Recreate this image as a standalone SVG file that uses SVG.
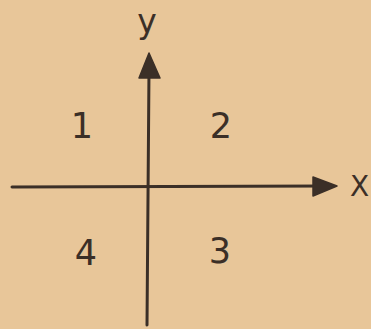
<svg xmlns="http://www.w3.org/2000/svg" width="371" height="329" viewBox="0 0 371 329">
<style>
.ax{stroke:#3b2f27;stroke-width:3;fill:none;stroke-linecap:round}
.hd{fill:#3b2f27;stroke:#3b2f27;stroke-width:1.5;stroke-linejoin:round}
.lb{font-family:"DejaVu Sans",sans-serif;font-size:35px;fill:#3b2f27;text-anchor:middle}
</style>
<rect width="371" height="329" fill="#e8c699"/>
<g id="connectors">
<line class="ax" x1="149" y1="70" x2="147" y2="325"/>
<line class="ax" x1="12" y1="187" x2="325" y2="186"/>
<polygon class="hd" points="149,53 160,78 139,78"/>
<polygon class="hd" points="337,186 313,177 313,196"/>
</g>
<g id="label-y"><text class="lb" x="147" y="33" style="font-size:33px">y</text></g>
<g id="label-x"><text class="lb" x="350" y="196" style="font-size:28px;text-anchor:start">X</text></g>
<g id="q1"><text class="lb" x="82" y="138">1</text></g>
<g id="q2"><text class="lb" x="221" y="138">2</text></g>
<g id="q3"><text class="lb" x="220" y="263">3</text></g>
<g id="q4"><text class="lb" x="86" y="265">4</text></g>
</svg>
